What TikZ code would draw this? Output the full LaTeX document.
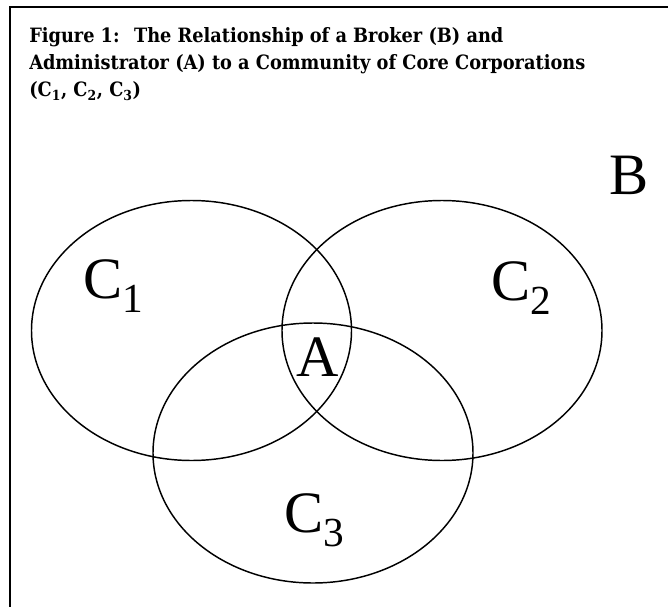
\documentclass[tikz,border=0pt]{standalone}
\usepackage{fontspec}
\setmainfont{Liberation Serif}
\newfontfamily\ttlfont{DejaVu Serif Condensed}
\usetikzlibrary{shapes.geometric}
\tikzset{
  vset/.style ={ellipse, draw=black, line width=1.1pt, minimum width=240pt,
                minimum height=195pt, inner sep=0pt},
  vlbl/.style ={font=\fontsize{44}{44}\selectfont, inner sep=0pt},
  ttl/.style  ={font=\ttlfont\bfseries\fontsize{14.8}{20.3}\selectfont, align=left,
                anchor=north west, inner sep=0pt},
  frm/.style  ={line width=1.9pt},
}
\newcommand{\vsub}[1]{\raisebox{-10.5pt}{\fontsize{31}{31}\selectfont #1}}

\begin{document}
\begin{tikzpicture}[x=0.75pt,y=-0.75pt]
  \useasboundingbox (0,0) rectangle (668,607);
  % open frame
  \coordinate (tr) at (668,7);
  \coordinate (tl) at (10,7);
  \coordinate (bl) at (10,607);
  \draw[frm] (tr) -- (tl) -- (bl);
  \node[ttl] (title) at (29,27) {Figure 1:~ The Relationship of a Broker (B) and\\
    Administrator (A) to a Community of Core Corporations\\
    (C\textsubscript{1}, C\textsubscript{2}, C\textsubscript{3})};
  % the three core corporations
  \node[vset] (c1) at (191.5,330.5) {};
  \node[vset] (c2) at (442,330.5) {};
  \node[vset] (c3) at (313,453) {};
  \node[vlbl, anchor=base west] (lc1) at (83,298) {C\vsub{1}};
  \node[vlbl, anchor=base west] (lc2) at (491,300) {C\vsub{2}};
  \node[vlbl, anchor=base west] (lc3) at (284,532) {C\vsub{3}};
  \node[vlbl, anchor=base] (la) at (318,376) {A};
  \node[vlbl, anchor=base] (lb) at (629,194) {B};
\end{tikzpicture}
\end{document}
